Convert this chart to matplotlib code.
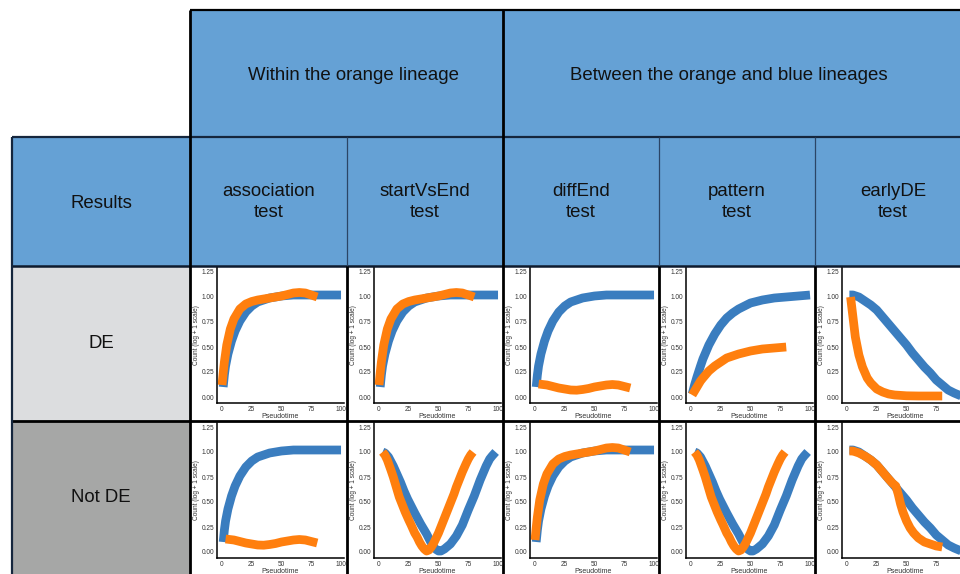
import matplotlib
matplotlib.use("Agg")
import matplotlib.pyplot as plt
from matplotlib.patches import Rectangle

plt.rcParams['font.family'] = ['Liberation Sans', 'DejaVu Sans']

# header texts
group_labels = ['Within the orange lineage', 'Between the orange and blue lineages']
test_labels = ['association\ntest', 'startVsEnd\ntest', 'diffEnd\ntest', 'pattern\ntest', 'earlyDE\ntest']
row_labels = ['DE', 'Not DE']

# curves: pseudotime, count
sat_blue_x = [1, 2, 3, 5, 8, 11, 15, 20, 25, 30, 35, 40, 50, 60, 100]
sat_blue_y = [0.10, 0.22, 0.31, 0.43, 0.56, 0.66, 0.76, 0.85, 0.91, 0.95, 0.97, 0.99, 1.01, 1.02, 1.02]

sat_orange_x = [0, 1, 2, 4, 7, 10, 15, 20, 25, 30, 40, 50, 55, 60, 65, 70, 75, 80]
sat_orange_y = [0.12, 0.24, 0.35, 0.52, 0.68, 0.78, 0.88, 0.93, 0.955, 0.97, 0.99, 1.01, 1.025,
                1.04, 1.045, 1.04, 1.02, 1.00]

wavy_orange_x = [3, 10, 15, 20, 25, 30, 35, 40, 45, 50, 55, 60, 65, 70, 75, 80]
wavy_orange_y = [0.13, 0.12, 0.105, 0.09, 0.08, 0.07, 0.068, 0.075, 0.085, 0.10, 0.11, 0.12,
                 0.125, 0.12, 0.105, 0.09]

pattern_blue_x = [1, 3, 5, 8, 10, 15, 20, 25, 30, 35, 40, 50, 60, 70, 80, 90, 100]
pattern_blue_y = [0.03, 0.12, 0.20, 0.31, 0.38, 0.52, 0.63, 0.72, 0.79, 0.84, 0.88, 0.94, 0.97,
                  0.99, 1.00, 1.01, 1.02]

pattern_orange_x = [1, 3, 5, 8, 10, 15, 20, 25, 30, 35, 40, 50, 60, 70, 80]
pattern_orange_y = [0.02, 0.06, 0.10, 0.16, 0.19, 0.26, 0.31, 0.35, 0.39, 0.41, 0.43, 0.46, 0.48,
                    0.49, 0.50]

vee_blue_x = [3, 5, 8, 12, 15, 18, 21, 24, 27, 30, 35, 40, 43, 46, 48, 50, 52, 55, 58, 60,
              65, 70, 75, 80, 85, 90, 93, 95, 98]
vee_blue_y = [1.00, 0.99, 0.95, 0.86, 0.78, 0.70, 0.61, 0.53, 0.46, 0.39, 0.28, 0.18, 0.11,
              0.05, 0.025, 0.01, 0.01, 0.03, 0.06, 0.08, 0.16, 0.27, 0.42, 0.56, 0.72, 0.86,
              0.93, 0.96, 1.00]

vee_orange_x = [3, 5, 7, 10, 12, 15, 17, 20, 22, 25, 27, 30, 32, 34, 36, 38, 40, 42, 44, 46,
                48, 50, 53, 55, 58, 60, 63, 65, 68, 70, 73, 75, 77, 79]
vee_orange_y = [1.00, 0.97, 0.92, 0.82, 0.75, 0.63, 0.55, 0.46, 0.40, 0.32, 0.27, 0.19, 0.15,
                0.10, 0.06, 0.03, 0.01, 0.02, 0.05, 0.09, 0.14, 0.19, 0.28, 0.34, 0.43, 0.49,
                0.58, 0.65, 0.74, 0.80, 0.88, 0.93, 0.97, 1.00]

early_blue_x = [2, 5, 10, 15, 20, 25, 30, 35, 40, 45, 50, 55, 60, 65, 70, 75, 80, 85, 90, 95, 98]
early_blue_y = [1.02, 1.02, 1.00, 0.96, 0.92, 0.87, 0.80, 0.73, 0.66, 0.59, 0.52, 0.44, 0.37,
                0.30, 0.24, 0.17, 0.12, 0.07, 0.04, 0.015, 0.00]

early_orange_de_x = [3, 4, 5, 7, 10, 13, 17, 20, 25, 30, 35, 40, 50, 60, 80]
early_orange_de_y = [1.00, 0.90, 0.80, 0.60, 0.42, 0.30, 0.19, 0.14, 0.08, 0.05, 0.03, 0.02,
                     0.012, 0.01, 0.01]

early_orange_notde_x = [2, 5, 10, 15, 20, 25, 30, 35, 38, 41, 43, 45, 47, 50, 53, 56, 60, 65,
                        70, 75, 80]
early_orange_notde_y = [1.01, 1.01, 0.99, 0.96, 0.92, 0.87, 0.80, 0.73, 0.69, 0.66, 0.58, 0.48,
                        0.40, 0.31, 0.24, 0.19, 0.14, 0.10, 0.08, 0.06, 0.05]

curves = {
    'sat_blue': (sat_blue_x, sat_blue_y),
    'sat_orange': (sat_orange_x, sat_orange_y),
    'wavy_orange': (wavy_orange_x, wavy_orange_y),
    'pattern_blue': (pattern_blue_x, pattern_blue_y),
    'pattern_orange': (pattern_orange_x, pattern_orange_y),
    'vee_blue': (vee_blue_x, vee_blue_y),
    'vee_orange': (vee_orange_x, vee_orange_y),
    'early_blue': (early_blue_x, early_blue_y),
    'early_orange_de': (early_orange_de_x, early_orange_de_y),
    'early_orange_notde': (early_orange_notde_x, early_orange_notde_y),
}

# (blue, orange) per row, per test column
panels = [
    [('sat_blue', 'sat_orange'), ('sat_blue', 'sat_orange'), ('sat_blue', 'wavy_orange'),
     ('pattern_blue', 'pattern_orange'), ('early_blue', 'early_orange_de')],
    [('sat_blue', 'wavy_orange'), ('vee_blue', 'vee_orange'), ('sat_blue', 'sat_orange'),
     ('vee_blue', 'vee_orange'), ('early_blue', 'early_orange_notde')],
]

W, H = 960, 574
head_blue = '#65a1d5'
c_blue = '#3a7dbf'
c_orange = '#ff7f0e'

fig = plt.figure(figsize=(9.6, 5.74), dpi=100)
bg = fig.add_axes([0, 0, 1, 1])
bg.set_xlim(0, W)
bg.set_ylim(H, 0)
bg.axis('off')

col_edges = [190, 347, 503, 659, 815, 971]
row_tops = [266, 421]

# cell fills
bg.add_patch(Rectangle((190, 10), 800, 127, fc=head_blue, ec='none'))
bg.add_patch(Rectangle((12, 137), 980, 129, fc=head_blue, ec='none'))
bg.add_patch(Rectangle((12, 266), 178, 155, fc='#dcdddf', ec='none'))
bg.add_patch(Rectangle((12, 421), 178, 170, fc='#a6a7a6', ec='none'))

# grid lines
bg.hlines(10, 190, W, color='black', lw=1.6)
bg.hlines(137, 12, W, color='#15263d', lw=1.6)
bg.hlines(266, 12, W, color='#0e1b2e', lw=1.8)
bg.hlines(421, 12, W, color='black', lw=2.0)
bg.vlines(12, 137, H, color='#15263d', lw=1.6)
bg.vlines([190, 503], 10, H, color='black', lw=2.0)
bg.vlines([347, 659, 815], 137, 266, color='#2b4566', lw=0.9)
bg.vlines([347, 659, 815], 266, H, color='black', lw=2.0)

# header texts
fs = 13.4
bg.text(353, 75, group_labels[0], ha='center', va='center', fontsize=fs, color='#111111')
bg.text(729, 75, group_labels[1], ha='center', va='center', fontsize=fs, color='#111111')
bg.text(101, 203, 'Results', ha='center', va='center', fontsize=fs, color='#111111')
for i, lab in enumerate(test_labels):
    cx = (col_edges[i] + col_edges[i + 1]) / 2
    bg.text(cx, 202, lab, ha='center', va='center', fontsize=fs, color='#111111', linespacing=1.35)
for r, lab in enumerate(row_labels):
    bg.text(101, row_tops[r] + 77, lab, ha='center', va='center', fontsize=fs, color='#111111')

# small panels
for r, rt in enumerate(row_tops):
    for c in range(5):
        left = col_edges[c] + 27
        top = rt + 2
        ax = fig.add_axes([left / W, 1 - (top + 135) / H, 127 / W, 135 / H])
        ax.set_facecolor('none')
        bname, oname = panels[r][c]
        bx, by = curves[bname]
        ox, oy = curves[oname]
        ax.plot(bx, by, color=c_blue, lw=6.3, solid_capstyle='butt', solid_joinstyle='round')
        ax.plot(ox, oy, color=c_orange, lw=6.3, solid_capstyle='butt', solid_joinstyle='round')
        ax.set_xlim(-4.2, 102.5)
        ax.set_ylim(-0.06, 1.29)
        ax.set_xticks([0, 25, 50, 75, 100])
        ax.set_yticks([0, 0.25, 0.5, 0.75, 1.0, 1.25])
        ax.set_yticklabels(['0.00', '0.25', '0.50', '0.75', '1.00', '1.25'])
        for s in ['top', 'right']:
            ax.spines[s].set_visible(False)
        for s in ['left', 'bottom']:
            ax.spines[s].set_linewidth(1.1)
        ax.tick_params(length=0, labelsize=4.7, labelcolor='#333333', pad=2)
        ax.set_xlabel('Pseudotime', fontsize=5, color='#333333', labelpad=0.5)
        ax.set_ylabel('Count (log + 1 scale)', fontsize=4.7, color='#333333', labelpad=1)

fig.savefig('out.png', dpi=100)
